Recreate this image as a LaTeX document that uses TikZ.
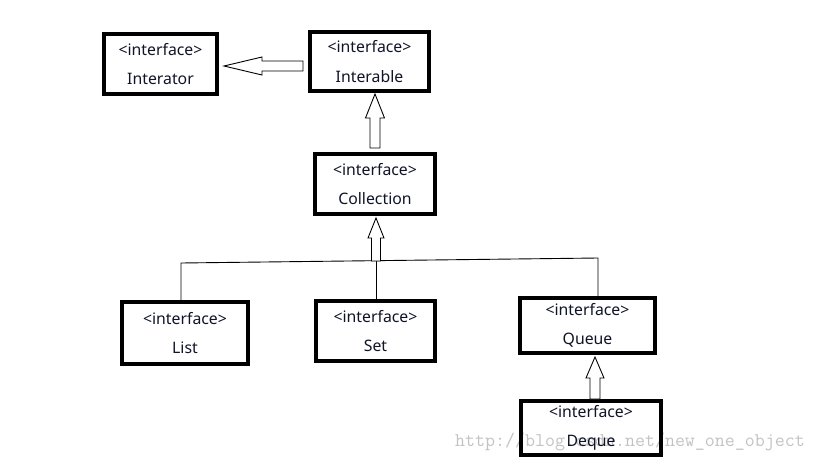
\documentclass[tikz,border=0pt]{standalone}
\usepackage{fontspec}
\setmainfont{Noto Sans}
\usetikzlibrary{calc}
\definecolor{txt}{RGB}{16,20,40}
\definecolor{wm}{RGB}{195,195,195}
\tikzset{
  box/.style={draw, line width=4pt, inner sep=0pt, align=center, text=txt,
    font=\fontsize{15.8}{29.5}\selectfont},
  arr/.style={draw, line width=0.9pt, fill=white},
  conn/.style={draw, line width=0.9pt}
}
\newcommand\barrow[5]{%
  \path[arr] let \p1=(#1), \p2=(#2), \n1={atan2(\y2-\y1,\x2-\x1)},
    \n2={veclen(\x2-\x1,\y2-\y1)} in
    {[shift={(\p1)}, rotate=\n1]
     (0,-#4) -- ({\n2-#3},-#4) -- ({\n2-#3},-#5) -- (\n2,0) --
     ({\n2-#3},#5) -- ({\n2-#3},#4) -- (0,#4) -- cycle};}
\begin{document}
\begin{tikzpicture}[x=1pt, y=-1pt]
\useasboundingbox (0,0) rectangle (819,460);
\fill[white] (0,0) rectangle (819,460);
% watermark
\node[anchor=base west, inner sep=0pt, text=wm, font=\ttfamily\fontsize{19.4}{22}\selectfont] (wmk) at (455,446) {http://blog.csdn.net/new\_one\_object};
% boxes
\node[box, minimum width=113pt, minimum height=60pt] (itor) at (160.5,64) {<interface>\\Interator};
\node[box, minimum width=119pt, minimum height=59pt] (ible) at (369.5,61.5) {<interface>\\Interable};
\node[box, minimum width=120pt, minimum height=60pt] (coll) at (375,184) {<interface>\\Collection};
\node[box, minimum width=126pt, minimum height=62pt] (list) at (185,333) {<interface>\\List};
\node[box, minimum width=119pt, minimum height=60pt] (set) at (375.5,331) {<interface>\\Set};
\node[box, minimum width=135pt, minimum height=55pt] (queue) at (587.5,325.5) {<interface>\\Queue};
\node[box, minimum width=140pt, minimum height=54pt] (deque) at (591,428) {<interface>\\Deque};
% connector tree
\coordinate (bus) at ($(coll.south)+(1,45)$);
\coordinate (busL) at ($(list.north)+(-4,-37)$);
\coordinate (busR) at ($(queue.north)+(10.5,-38)$);
\draw[conn] (list.north -| busL) -- (busL) -- (busR) -- (queue.north -| busR);
\draw[conn] (set.north -| bus) -- (bus);
% block arrows
\coordinate (a1s) at ($(ible.west)+(-5,4.5)$);
\coordinate (a1e) at ($(itor.east)+(5,2)$);
\barrow{a1s}{a1e}{38}{5}{9}
\coordinate (a2s) at ($(coll.north)+(0,-4)$);
\coordinate (a2e) at ($(coll.north |- ible.south)+(0,1)$);
\barrow{a2s}{a2e}{24}{5}{9.5}
\coordinate (a3e) at ($(coll.south -| bus)+(0,2)$);
\barrow{bus}{a3e}{20}{4.5}{8}
\coordinate (a4s) at ($(deque.north)+(4,0)$);
\coordinate (a4e) at ($(queue.south -| a4s)+(0,2)$);
\barrow{a4s}{a4e}{21}{5}{9}
\end{tikzpicture}
\end{document}
